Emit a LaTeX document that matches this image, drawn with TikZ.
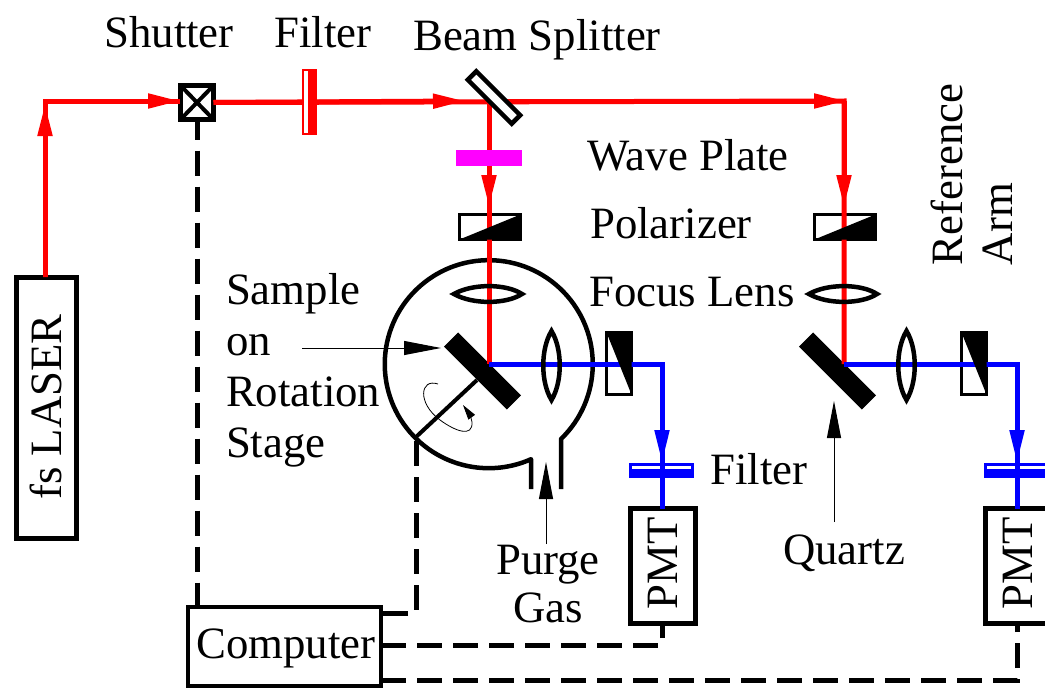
\documentclass[tikz,border=0pt]{standalone}
\usepackage{fontspec}
\setmainfont{Liberation Serif}
\usetikzlibrary{arrows.meta}
\definecolor{beamred}{RGB}{255,0,0}
\definecolor{beamblue}{RGB}{0,0,255}
\definecolor{plate}{RGB}{255,0,255}
\tikzset{
  x=1pt,y=-1pt,
  every node/.style={inner sep=0pt,outer sep=0pt},
  lbl/.style={font=\fontsize{44.8}{45}\selectfont,anchor=base,text=black},
  lblw/.style={lbl,anchor=base west},
  rlbl/.style={font=\fontsize{44.8}{45}\selectfont,rotate=90,text=black},
  box/.style={draw=black,line width=5pt},
  redbeam/.style={draw=beamred,line width=5pt},
  bluebeam/.style={draw=beamblue,line width=5pt},
  ctrl/.style={draw=black,line width=5pt,dash pattern=on 25pt off 11pt},
  optic/.style={draw=black,line width=3.5pt},
  lensline/.style={draw=black,line width=4.5pt,line join=miter},
  tipred/.style={-{Triangle[length=32pt,width=14pt,color=beamred]}},
  tipblue/.style={-{Triangle[length=33pt,width=14pt,color=beamblue]}},
  thinarrow/.style={draw=black,line width=1pt,-{Triangle[length=37pt,width=14pt,color=black]}},
}
\begin{document}
\begin{tikzpicture}
\useasboundingbox (0,0) rectangle (1045,688);
\clip (0,0) rectangle (1045,688);

% chamber
\coordinate (neckR) at (561,439);
\coordinate (neckL) at (531,458);
\coordinate (neckRb) at (561,489);
\coordinate (neckLb) at (531,489);
\draw[black,line width=4.5pt,line join=round] (neckRb) -- (neckR) arc[start angle=-46,end angle=294,radius=104pt] -- (neckLb);

% main nodes
\node[box,minimum width=60pt,minimum height=261pt] (laser) at (46,407.5) {};
\node[rlbl] (laserT) at (46,407) {fs LASER};
\node[box,minimum width=33pt,minimum height=34pt] (shutter) at (197,102.5) {};
\node[box,minimum width=193pt,minimum height=79pt,line width=4pt] (computer) at (284.5,646) {};
\node[lbl] (computerT) at (286,658) {Computer};

\coordinate (corner) at (45,101);
\coordinate (arrA) at (45,104);
\coordinate (arrB) at (180,101);
\coordinate (arrC) at (465,101);
\coordinate (split) at (489,101);
\coordinate (far) at (844,101);

\foreach \dx/\n in {0/a,355/b}{
\begin{scope}[shift={(\dx,0)}]
  \coordinate (spot\n) at (489,364);
  \coordinate (bend\n) at (662,364);
  \coordinate (arrF\n) at (489,207);
  \coordinate (tipb\n) at (662,463);
  \node[optic,minimum width=61pt,minimum height=25pt] (pol\n) at (490,227) {};
  \node[optic,minimum width=25pt,minimum height=62pt] (ana\n) at (619,363.5) {};
  \node[draw=black,fill=black,line width=1pt,rotate=-45,minimum width=88pt,minimum height=19pt] (mirror\n) at (482.5,371) {};
  \node[box,minimum width=65pt,minimum height=115pt] (pmt\n) at (663,566) {};
  \node[rlbl] (pmtT\n) at (663,563) {PMT};
  \node[draw=beamblue,line width=3pt,minimum width=62pt,minimum height=12pt] (bf\n) at (661.5,470.5) {};
\end{scope}
}

% beams
\draw[redbeam] (laser.north -| corner) -- (corner) -- (arrB);
\draw[redbeam,tipred] (corner) -- (arrA |- laser.north) -- (arrA);
\draw[redbeam,tipred] (corner) -- (arrB);
\draw[redbeam] (shutter.east) -- (far) -- (spotb);
\draw[redbeam,tipred] (shutter.east) -- (arrC);
\draw[redbeam,tipred] (far) -- (arrFb);
\draw[redbeam] (split) -- (spota);
\draw[redbeam,tipred] (split) -- (arrFa);
\draw[redbeam,tipred] (split) -- (846,101);

% shutter cross
\draw[black,line width=4pt] (shutter.north west) -- (shutter.south east);
\draw[black,line width=4pt] (shutter.north east) -- (shutter.south west);

% filter and splitter and wave plate
\node[draw=beamred,line width=2pt,fill=white,minimum width=13pt,minimum height=64pt] (rf) at (309.5,102) {};
\fill[beamred] ([xshift=-2pt]rf.north) rectangle (rf.south east);
\node[draw=black,fill=white,line width=4.5pt,rotate=-45,minimum width=62pt,minimum height=12pt] (splitter) at (494,97.5) {};
\node[fill=plate,minimum width=66pt,minimum height=16pt] (wave) at (489,158) {};

\foreach \dx/\n in {0/a,355/b}{
\begin{scope}[shift={(\dx,0)}]
  \draw[bluebeam] (spot\n) -- (bend\n) -- (pmt\n.north -| bend\n);
  \draw[bluebeam,tipblue] (bend\n) -- (tipb\n);
  \fill[beamblue] ([yshift=2pt]bf\n.west) rectangle (bf\n.south east);
  \fill[black] (pol\n.south west) -- (pol\n.south east) -- (pol\n.north east) -- cycle;
  \fill[black] (ana\n.north west) -- (ana\n.north east) -- (ana\n.south east) -- cycle;
  \draw[lensline] (454,294) .. controls (472,283.5) and (506,283.5) .. (522,294) .. controls (506,304.5) and (472,304.5) .. (454,294) -- cycle;
  \draw[lensline] (551.5,331) .. controls (540.5,349) and (540.5,382) .. (551.5,400) .. controls (562.5,382) and (562.5,349) .. (551.5,331) -- cycle;
\end{scope}
}

% stage rod and rotation arrow
\coordinate (rodA) at (477,380);
\coordinate (rodB) at (416,437);
\draw[black,line width=4pt] (rodA) -- (rodB);
\draw[black,line width=0.8pt,-{Triangle[length=15pt,width=8pt]}] (438,384) .. controls (420,378) and (417,403) .. (440,420) .. controls (455,431) and (473,438) .. (472,422) .. controls (471,416) and (468,412) .. (463,405);

% control lines
\draw[ctrl,dash phase=5pt] (shutter.south) -- (shutter.south |- computer.north);
\draw[ctrl,dash phase=32pt] (rodB) -- (416,613) -- (computer.east |- 0,613);
\draw[ctrl] (computer.east |- 0,645) -- (662,645) -- (pmta.south -| 662,0);
\draw[ctrl] (computer.east |- 0,680) -- (1017,680) -- (pmtb.south -| 1017,0);

% pointer arrows
\coordinate (sampleFrom) at (302,348);
\coordinate (sampleTo) at (441,348);
\draw[thinarrow] (sampleFrom) -- (sampleTo);
\coordinate (purgeFrom) at (546,544);
\coordinate (purgeTo) at (546,462);
\draw[thinarrow] (purgeFrom) -- (purgeTo);
\coordinate (quartzFrom) at (834,522);
\coordinate (quartzTo) at (834,401);
\draw[thinarrow] (quartzFrom) -- (quartzTo);

% labels
\node[lbl] (t1) at (169,47) {Shutter};
\node[lbl] (t2) at (323,47) {Filter};
\node[lbl] (t3) at (537,50) {Beam Splitter};
\node[lbl] (t4) at (688,170) {Wave Plate};
\node[lbl] (t5) at (671,238) {Polarizer};
\node[lbl] (t6) at (692,306) {Focus Lens};
\node[lblw] (t7) at (226,304) {Sample};
\node[lblw] (t8) at (226,355) {on};
\node[lblw] (t9) at (226,406) {Rotation};
\node[lblw] (t10) at (226,457) {Stage};
\node[lbl] (t11) at (759,484) {Filter};
\node[lbl] (t12) at (548,574) {Purge};
\node[lbl] (t13) at (548,622) {Gas};
\node[lbl] (t14) at (844,564) {Quartz};
\node[rlbl,anchor=base west] (t15) at (962,265) {Reference};
\node[rlbl,anchor=base west] (t16) at (1012,265) {Arm};
\end{tikzpicture}
\end{document}
